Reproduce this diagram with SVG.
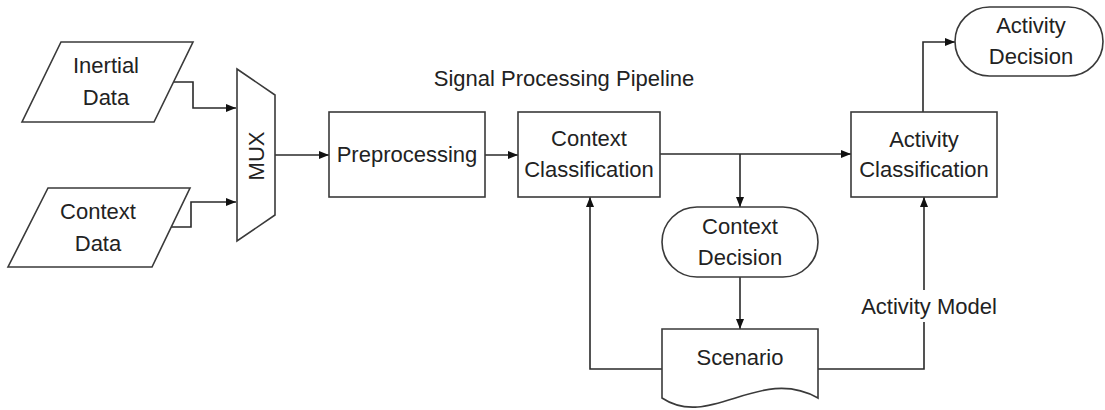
<svg xmlns="http://www.w3.org/2000/svg" width="1105" height="410" viewBox="0 0 1105 410">
<style>
.shape{fill:#fff;stroke:#3a3a3a;stroke-width:1.6}
.conn{fill:none;stroke:#2a2a2a;stroke-width:1.6}
text{font-family:"Liberation Sans",Arial,sans-serif;font-size:22px;fill:#222;text-anchor:middle}
</style>
<defs>
<marker id="arr" viewBox="0 0 10 10" refX="10" refY="5" markerWidth="10" markerHeight="10" markerUnits="userSpaceOnUse" orient="auto">
<path d="M0,1 L10,5 L0,9 Z" fill="#111"/>
</marker>
</defs>
<rect width="1105" height="410" fill="#fff"/>
<text id="title" x="564" y="86">Signal Processing Pipeline</text>
<g id="connectors">
<path class="conn" d="M174,82 H193 V108 H236" marker-end="url(#arr)"/>
<path class="conn" d="M171,227 H191 V202 H236" marker-end="url(#arr)"/>
<path class="conn" d="M275,155 H329" marker-end="url(#arr)"/>
<path class="conn" d="M485,155 H518" marker-end="url(#arr)"/>
<path class="conn" d="M660,154 H851" marker-end="url(#arr)"/>
<path class="conn" d="M740,154 V207" marker-end="url(#arr)"/>
<path class="conn" d="M740,277 V329" marker-end="url(#arr)"/>
<path class="conn" d="M662,369 H590 V197" marker-end="url(#arr)"/>
<path class="conn" d="M818,369 H924 V322 M924,290 V197" marker-end="url(#arr)"/>
<path class="conn" d="M923,112 V42 H955" marker-end="url(#arr)"/>
<text x="929" y="314">Activity Model</text>
</g>
<g id="inertial-data">
<polygon class="shape" points="61,42 193,42 154,122 22,122"/>
<text x="106" y="73">Inertial</text>
<text x="106" y="105">Data</text>
</g>
<g id="context-data">
<polygon class="shape" points="48,188 190,188 152,267 8,267"/>
<text x="98" y="219">Context</text>
<text x="98" y="251">Data</text>
</g>
<g id="mux">
<polygon class="shape" points="237,69 275,95 275,215 237,241"/>
<text transform="translate(264,156) rotate(-90)">MUX</text>
</g>
<g id="preprocessing">
<rect class="shape" x="329" y="112" width="156" height="85"/>
<text x="407" y="162">Preprocessing</text>
</g>
<g id="context-classification">
<rect class="shape" x="518" y="112" width="142" height="85"/>
<text x="589" y="146">Context</text>
<text x="589" y="177">Classification</text>
</g>
<g id="activity-classification">
<rect class="shape" x="851" y="112" width="146" height="85"/>
<text x="924" y="147">Activity</text>
<text x="924" y="177">Classification</text>
</g>
<g id="activity-decision">
<rect class="shape" x="955" y="7" width="148" height="69" rx="34.5" ry="34.5"/>
<text x="1031" y="33">Activity</text>
<text x="1031" y="64">Decision</text>
</g>
<g id="context-decision">
<rect class="shape" x="662" y="207" width="156" height="70" rx="35" ry="35"/>
<text x="740" y="234">Context</text>
<text x="740" y="265">Decision</text>
</g>
<g id="scenario">
<path class="shape" d="M662,329 H818 V398 C760,365 710,430 662,398 Z"/>
<text x="740" y="365">Scenario</text>
</g>
</svg>
